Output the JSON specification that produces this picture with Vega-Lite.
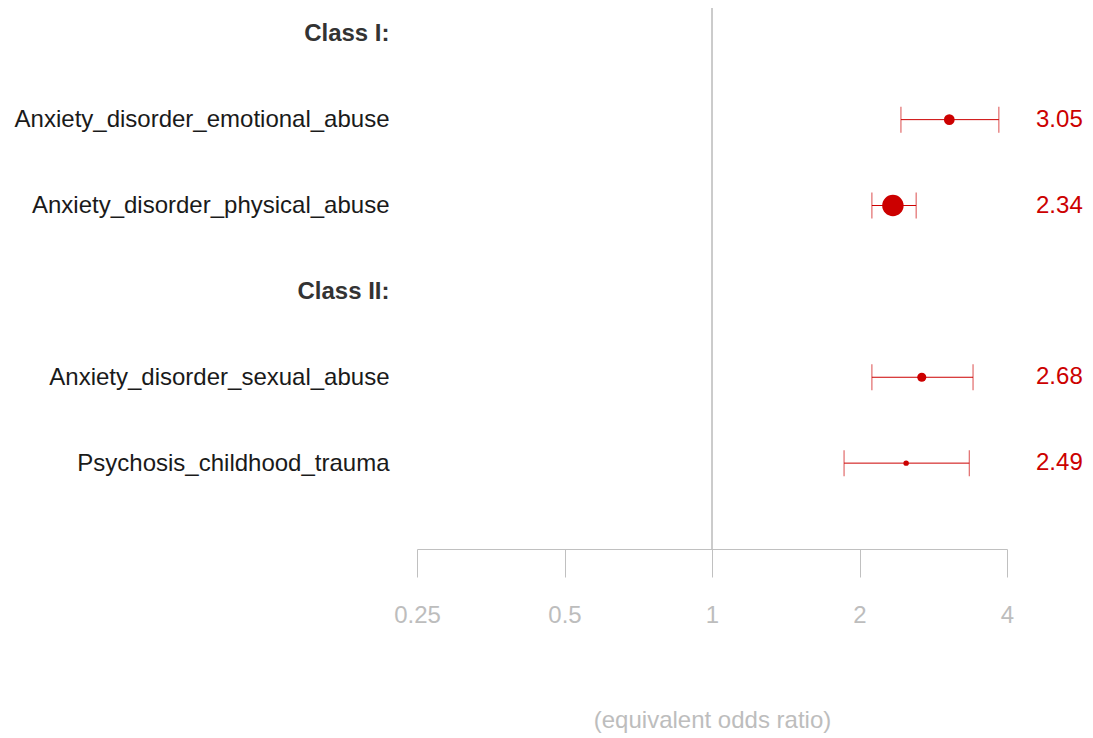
{
  "$schema": "https://vega.github.io/schema/vega-lite/v6.json",
  "autosize": "none",
  "width": 590,
  "height": 541,
  "padding": {"left": 417, "top": 8, "right": 86, "bottom": 189},
  "background": "white",
  "config": {
    "view": {"stroke": null},
    "font": "Liberation Sans",
    "axis": {"grid": false, "labelFont": "Liberation Sans", "titleFont": "Liberation Sans"},
    "text": {"font": "Liberation Sans"}
  },
  "data": {
    "values": [
      {"label": "Anxiety_disorder_emotional_abuse", "est": 3.05, "lo": 2.43, "hi": 3.85, "w": 0.25},
      {"label": "Anxiety_disorder_physical_abuse", "est": 2.34, "lo": 2.12, "hi": 2.61, "w": 1.0},
      {"label": "Anxiety_disorder_sexual_abuse", "est": 2.68, "lo": 2.12, "hi": 3.41, "w": 0.18},
      {"label": "Psychosis_childhood_trauma", "est": 2.49, "lo": 1.86, "hi": 3.35, "w": 0.065}
    ]
  },
  "encoding": {
    "y": {
      "field": "label",
      "type": "nominal",
      "title": null,
      "scale": {
        "type": "point",
        "domain": [
          "Class I:",
          "Anxiety_disorder_emotional_abuse",
          "Anxiety_disorder_physical_abuse",
          "Class II:",
          "Anxiety_disorder_sexual_abuse",
          "Psychosis_childhood_trauma"
        ],
        "padding": 0.65,
        "align": 0.2308
      },
      "axis": {
        "domain": false,
        "ticks": false,
        "tickSize": 0,
        "labelPadding": 28,
        "labelFontSize": 24,
        "labelColor": {"condition": {"test": "indexof(datum.value, 'Class') === 0", "value": "#333333"}, "value": "#1a1a1a"},
        "labelFontWeight": {"condition": {"test": "indexof(datum.value, 'Class') === 0", "value": "bold"}, "value": "normal"},
        "labelLimit": 500
      }
    }
  },
  "layer": [
    {
      "mark": {"type": "rule", "color": "#c8c8c8", "strokeWidth": 1},
      "encoding": {
        "x": {
          "datum": 1,
          "type": "quantitative",
          "scale": {"type": "log", "domain": [0.25, 4], "base": 2, "nice": false},
          "axis": {
            "values": [0.25, 0.5, 1, 2, 4],
            "format": "~g",
            "title": "(equivalent odds ratio)",
            "domainColor": "#c0c0c0",
            "tickColor": "#c0c0c0",
            "tickSize": 28,
            "labelFlush": false,
            "labelColor": "#bdbdbd",
            "labelFontSize": 24,
            "labelPadding": 26,
            "titleColor": "#bdbdbd",
            "titleFontSize": 24,
            "titleFontWeight": "normal",
            "titlePadding": 81
          }
        },
        "y": null
      }
    },
    {
      "mark": {"type": "rule", "color": "#cc0000", "strokeWidth": 1},
      "encoding": {
        "x": {"field": "lo", "type": "quantitative"},
        "x2": {"field": "hi"}
      }
    },
    {
      "mark": {"type": "tick", "color": "#cc0000", "thickness": 1, "size": 26, "orient": "vertical"},
      "encoding": {"x": {"field": "lo", "type": "quantitative"}}
    },
    {
      "mark": {"type": "tick", "color": "#cc0000", "thickness": 1, "size": 26, "orient": "vertical"},
      "encoding": {"x": {"field": "hi", "type": "quantitative"}}
    },
    {
      "mark": {"type": "circle", "color": "#cc0000", "opacity": 1},
      "encoding": {
        "x": {"field": "est", "type": "quantitative"},
        "size": {"field": "w", "type": "quantitative", "scale": {"domain": [0, 1], "range": [0, 460]}, "legend": null}
      }
    },
    {
      "mark": {"type": "text", "color": "#cc0000", "align": "right", "baseline": "middle", "fontSize": 24},
      "encoding": {
        "x": {"datum": 5.71, "type": "quantitative"},
        "text": {"field": "est", "type": "quantitative", "format": ".2f"}
      }
    }
  ]
}
